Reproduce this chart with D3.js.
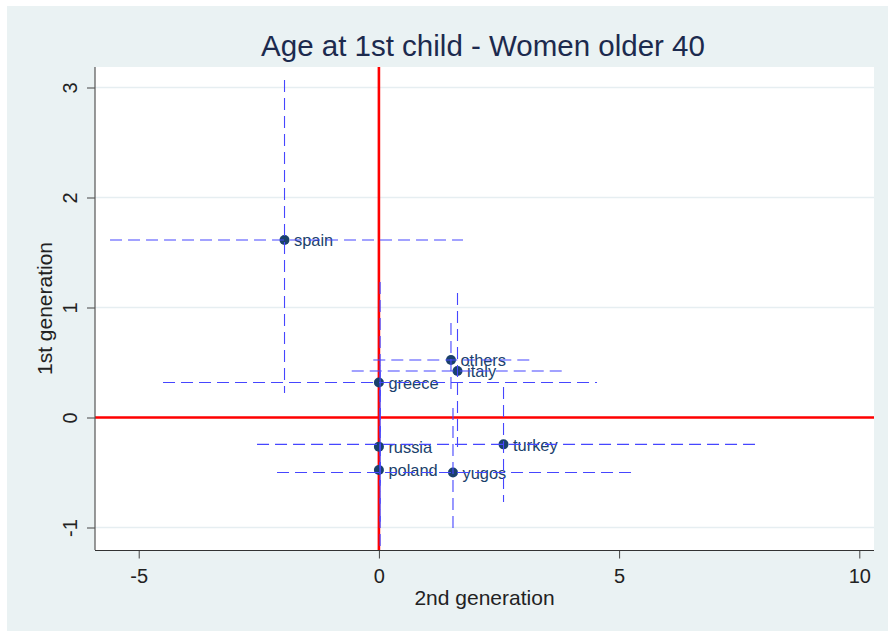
<!DOCTYPE html>
<html>
<head>
<meta charset="utf-8">
<script src="https://cdn.jsdelivr.net/npm/d3@7"></script>
<style>
  html, body { margin: 0; padding: 0; background: #ffffff; }
  svg { display: block; }
  text { font-family: Arial, "Liberation Sans", sans-serif; }
</style>
</head>
<body>
<script>
// Country groups and their estimates (x: 2nd generation, y: 1st generation)
const countries = ["spain", "others", "italy", "greece", "russia", "turkey", "poland", "yugos"];
const secondGen = [-1.965, 1.50, 1.636, 0, 0, 2.594, 0, 1.542];
const firstGen  = [1.614, 0.523, 0.423, 0.318, -0.265, -0.244, -0.477, -0.50];

// Confidence ranges along each axis
const secondGenLo = [-5.597, -0.117, -0.566, -4.494, 0, -2.537, 0, -2.121];
const secondGenHi = [1.751, 3.177, 3.916, 4.540, 0, 7.829, 0, 5.248];
const firstGenLo  = [0.223, 0.223, -0.268, -0.596, -1.0, -0.768, -1.20, -1.05];
const firstGenHi  = [3.068, 0.859, 1.132, 1.232, 0.47, 0.277, 0.25, 0.086];

const xTicks = [-5, 0, 5, 10];
const yTicks = [-1, 0, 1, 2, 3];

const W = 888, H = 631;
const plot = { left: 95, right: 874, top: 67, bottom: 550 };
const plainNumber = d => String(d);   // keeps an ASCII hyphen for negatives

const svg = d3.select("body").append("svg").attr("width", W).attr("height", H);

// graph region background
svg.append("rect").attr("x", 7).attr("y", 6).attr("width", W - 7).attr("height", H - 6)
  .attr("fill", "#eaf2f3");
// plot region
svg.append("rect").attr("x", plot.left).attr("y", plot.top)
  .attr("width", plot.right - plot.left).attr("height", plot.bottom - plot.top)
  .attr("fill", "#ffffff");

const x = d3.scaleLinear().domain([-5.910, 10.306]).range([plot.left, plot.right]);
const y = d3.scaleLinear().domain([-1.2045, 3.1864]).range([plot.bottom, plot.top]);

// horizontal grid lines
svg.append("g").selectAll("line").data(yTicks).join("line")
  .attr("x1", plot.left).attr("x2", plot.right)
  .attr("y1", d => y(d)).attr("y2", d => y(d))
  .attr("stroke", "#e6eef1").attr("stroke-width", 1.6);

// red reference lines at zero
svg.append("line").attr("x1", x(0)).attr("x2", x(0)).attr("y1", plot.top).attr("y2", plot.bottom)
  .attr("stroke", "#ff0000").attr("stroke-width", 2.6);
svg.append("line").attr("x1", plot.left).attr("x2", plot.right).attr("y1", y(0)).attr("y2", y(0))
  .attr("stroke", "#ff0000").attr("stroke-width", 2.6);

const idx = d3.range(countries.length);

// markers
svg.append("g").selectAll("circle").data(idx).join("circle")
  .attr("cx", i => x(secondGen[i])).attr("cy", i => y(firstGen[i]))
  .attr("r", 5).attr("fill", "#1a416b");

// marker labels
svg.append("g").selectAll("text").data(idx).join("text")
  .attr("x", i => x(secondGen[i]) + 9.5).attr("y", i => y(firstGen[i]) + 6.5)
  .attr("font-size", 16.4).attr("fill", "#1a416b")
  .text(i => countries[i]);

// dashed confidence ranges
const ci = svg.append("g").attr("stroke", "#4646ff").attr("stroke-width", 1.1)
  .attr("stroke-dasharray", "12,6").attr("fill", "none");
ci.selectAll("line.h").data(idx.filter(i => secondGenHi[i] > secondGenLo[i])).join("line")
  .attr("class", "h")
  .attr("x1", i => x(secondGenLo[i])).attr("x2", i => x(secondGenHi[i]))
  .attr("y1", i => y(firstGen[i])).attr("y2", i => y(firstGen[i]));
ci.selectAll("line.v").data(idx).join("line")
  .attr("class", "v")
  .attr("x1", i => x(secondGen[i]) + (secondGen[i] === 0 ? 1.2 : 0))
  .attr("x2", i => x(secondGen[i]) + (secondGen[i] === 0 ? 1.2 : 0))
  .attr("y1", i => y(firstGenHi[i])).attr("y2", i => y(firstGenLo[i]));

// x axis
const gx = svg.append("g").attr("transform", `translate(0,${plot.bottom + 0.5})`)
  .call(d3.axisBottom(x).tickValues(xTicks).tickSize(8).tickPadding(10.5).tickSizeOuter(0)
    .tickFormat(plainNumber));
gx.select(".domain").remove();
gx.append("line").attr("x1", plot.left).attr("x2", plot.right).attr("stroke", "#333");
gx.selectAll(".tick line").attr("stroke", "#444");
gx.selectAll(".tick text").attr("font-size", 20).attr("fill", "#222")
  .attr("font-family", "Arial, 'Liberation Sans', sans-serif");

// y axis with rotated tick labels
const gy = svg.append("g").attr("transform", `translate(${plot.left},0)`)
  .call(d3.axisLeft(y).tickValues(yTicks).tickSize(8).tickSizeOuter(0)
    .tickFormat(plainNumber));
gy.select(".domain").remove();
gy.append("line").attr("y1", plot.top).attr("y2", plot.bottom).attr("stroke", "#555").attr("stroke-width", 1.2);
gy.selectAll(".tick line").attr("stroke", "#444");
gy.selectAll(".tick text")
  .attr("x", null).attr("dy", null).attr("y", 0)
  .attr("text-anchor", "middle")
  .attr("transform", "translate(-18,0) rotate(-90)")
  .attr("font-size", 20).attr("fill", "#222")
  .attr("font-family", "Arial, 'Liberation Sans', sans-serif");

// titles
const midX = (plot.left + plot.right) / 2;
svg.append("text").attr("x", midX - 1.5).attr("y", 56).attr("text-anchor", "middle")
  .attr("font-size", 29.5).attr("fill", "#1c2a4e")
  .text("Age at 1st child - Women older 40");
svg.append("text").attr("x", midX).attr("y", 605).attr("text-anchor", "middle")
  .attr("font-size", 21).attr("fill", "#222")
  .text("2nd generation");
svg.append("text")
  .attr("transform", `translate(52,${(plot.top + plot.bottom) / 2}) rotate(-90)`)
  .attr("text-anchor", "middle")
  .attr("font-size", 21).attr("fill", "#222")
  .text("1st generation");
</script>
</body>
</html>
